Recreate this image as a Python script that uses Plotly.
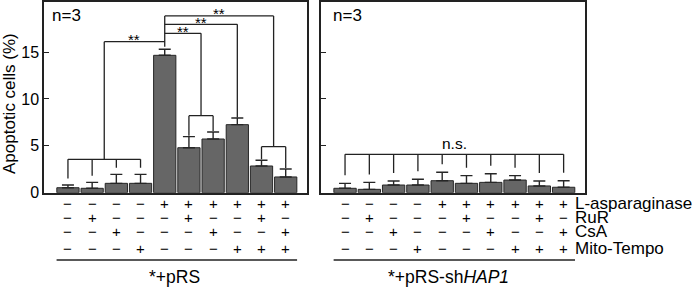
import plotly.graph_objects as go

# ---------------- data ----------------
lanes = list(range(10))
l_asparaginase = ["−", "−", "−", "−", "+", "+", "+", "+", "+", "+"]
rur            = ["−", "+", "−", "−", "−", "+", "−", "−", "+", "−"]
csa            = ["−", "−", "+", "−", "−", "−", "+", "−", "−", "+"]
mito_tempo     = ["−", "−", "−", "+", "−", "−", "−", "+", "+", "+"]
row_names = ["L-asparaginase", "RuR", "CsA", "Mito-Tempo"]

prs_mean = [0.53, 0.47, 1.0, 1.0, 14.66, 4.80, 5.73, 7.26, 2.85, 1.68]
prs_sd   = [0.29, 0.63, 0.96, 0.96, 0.64, 1.18, 0.75, 0.71, 0.61, 0.85]
sh_mean  = [0.47, 0.36, 0.82, 0.82, 1.28, 1.00, 1.10, 1.35, 0.72, 0.58]
sh_sd    = [0.53, 0.74, 0.43, 0.61, 0.90, 0.82, 0.93, 0.47, 0.53, 0.70]

y_ticks = [0, 5, 10, 15]
group_names = ["*+pRS", "*+pRS-sh<i>HAP1</i>"]

# ---------------- layout helpers ----------------
W, H = 699, 289
FONT = "Liberation Sans, Arial, Helvetica, sans-serif"
INK = "#000000"
LINE = "#222222"

def px(xp):
    return xp / W

def py(yp):
    return 1 - yp / H

fig = go.Figure()

bar_marker = dict(color="#666666", line=dict(color="#262626", width=1))
for means, sds, xa, ya in [(prs_mean, prs_sd, "x", "y"), (sh_mean, sh_sd, "x2", "y2")]:
    fig.add_trace(go.Bar(
        x=lanes, y=means, width=0.92, marker=bar_marker,
        error_y=dict(type="data", symmetric=False, array=sds,
                     arrayminus=[0] * len(sds), color="#262626",
                     thickness=1.4, width=6),
        xaxis=xa, yaxis=ya, showlegend=False, hoverinfo="skip",
    ))

shapes = []

def seg(xref, yref, x0, y0, x1, y1, w=1.3):
    shapes.append(dict(type="line", xref=xref, yref=yref, x0=x0, y0=y0,
                       x1=x1, y1=y1, line=dict(color=LINE, width=w)))

tl = [m + s for m, s in zip(prs_mean, prs_sd)]
tr = [m + s for m, s in zip(sh_mean, sh_sd)]

# Left panel brackets
ya_ = 3.56
for i in range(4):
    seg("x", "y", i, tl[i] + 0.7, i, ya_)
seg("x", "y", 0, ya_, 3, ya_)
seg("x", "y", 1.5, ya_, 1.5, 16.12)
seg("x", "y", 1.5, 16.12, 4, 16.12)
seg("x", "y", 4, tl[4] + 0.28, 4, 18.86)
# bars 6-7
seg("x", "y", 4, 17.01, 5.5, 17.01)
seg("x", "y", 5.5, 17.01, 5.5, 8.22)
seg("x", "y", 5, 8.22, 6, 8.22)
seg("x", "y", 5, 8.22, 5, tl[5] + 0.1)
seg("x", "y", 6, 8.22, 6, tl[6] + 0.1)
# bar 8
seg("x", "y", 4, 17.97, 7, 17.97)
seg("x", "y", 7, 17.97, 7, tl[7] + 0.05)
# bars 9-10
seg("x", "y", 4, 18.86, 8.5, 18.86)
seg("x", "y", 8.5, 18.86, 8.5, 4.91)
seg("x", "y", 8, 4.91, 9, 4.91)
seg("x", "y", 8, 4.91, 8, tl[8] + 0.1)
seg("x", "y", 9, 4.91, 9, tl[9] + 0.1)

# Right panel bracket
yr_ = 4.1
seg("x2", "y2", 0, yr_, 9, yr_)
for i in range(10):
    seg("x2", "y2", i, yr_, i, tr[i] + 0.85)

# lines under the tables
seg("x", "paper", -0.47, py(260), 9.47, py(260), 1.5)
seg("x2", "paper", -0.47, py(260), 9.47, py(260), 1.5)

annotations = []

def ann(text, x, y, xref, yref, size, xanchor="center", yanchor="middle", **kw):
    annotations.append(dict(text=text, x=x, y=y, xref=xref, yref=yref,
                            showarrow=False, xanchor=xanchor, yanchor=yanchor,
                            borderpad=0,
                            font=dict(family=FONT, size=size, color=INK), **kw))

# significance marks
for xm, yl in [(2.75, 16.12), (4.75, 17.01), (5.5, 17.97), (6.25, 18.86)]:
    ann("**", xm, yl, "x", "y", 15, yshift=2)
ann("n.s.", 4.5, 5.27, "x2", "y2", 15.5)

# n=3
ann("n=3", px(51), py(15), "paper", "paper", 17, xanchor="left")
ann("n=3", px(332), py(15), "paper", "paper", 17, xanchor="left")

# treatment table
row_y = [203.5, 217.5, 231.7, 248.0]
rows = [l_asparaginase, rur, csa, mito_tempo]
for signs, yy in zip(rows, row_y):
    for xa in ["x", "x2"]:
        for i, s in zip(lanes, signs):
            ann(s, i, py(yy), xa, "paper", 15)
for name, yy in zip(row_names, row_y):
    ann(name, px(574), py(yy), "paper", "paper", 17, xanchor="left")

# group labels
ann(group_names[0], px(174.5), py(277), "paper", "paper", 17.5)
ann(group_names[1], px(449), py(277), "paper", "paper", 17.5)

# y title
ann("Apoptotic cells (%)", px(10), py(104), "paper", "paper", 17, textangle=-90)

x_common = dict(range=[-0.99, 9.88], showline=True, mirror=True, linecolor=LINE,
                linewidth=1.5, showticklabels=False, ticks="", showgrid=False,
                zeroline=False, fixedrange=True, automargin=False)
y_common = dict(domain=[py(192.7), py(2)], range=[0, 20.35], tickvals=y_ticks,
                ticks="inside", ticklen=5, tickwidth=1.3, tickcolor=LINE,
                showline=True, mirror=True, linecolor=LINE, linewidth=1.5,
                showgrid=False, zeroline=False, fixedrange=True, automargin=False,
                tickfont=dict(family=FONT, size=16, color=INK))

fig.update_layout(
    width=W, height=H,
    margin=dict(l=0, r=0, t=0, b=0, pad=0, autoexpand=False),
    paper_bgcolor="white", plot_bgcolor="white",
    bargap=0.08,
    xaxis=dict(domain=[px(44), px(307)], anchor="y", **x_common),
    yaxis=dict(anchor="x", showticklabels=True, **y_common),
    xaxis2=dict(domain=[px(321), px(585)], anchor="y2", **x_common),
    yaxis2=dict(anchor="x2", showticklabels=False, **y_common),
    shapes=shapes,
    annotations=annotations,
    font=dict(family=FONT, color=INK),
)

# remove the browser's default 8px page margin so the figure fills the window
fig.write_html("out.html", config={"displayModeBar": False},
               post_script="document.body.style.margin='0px';")
